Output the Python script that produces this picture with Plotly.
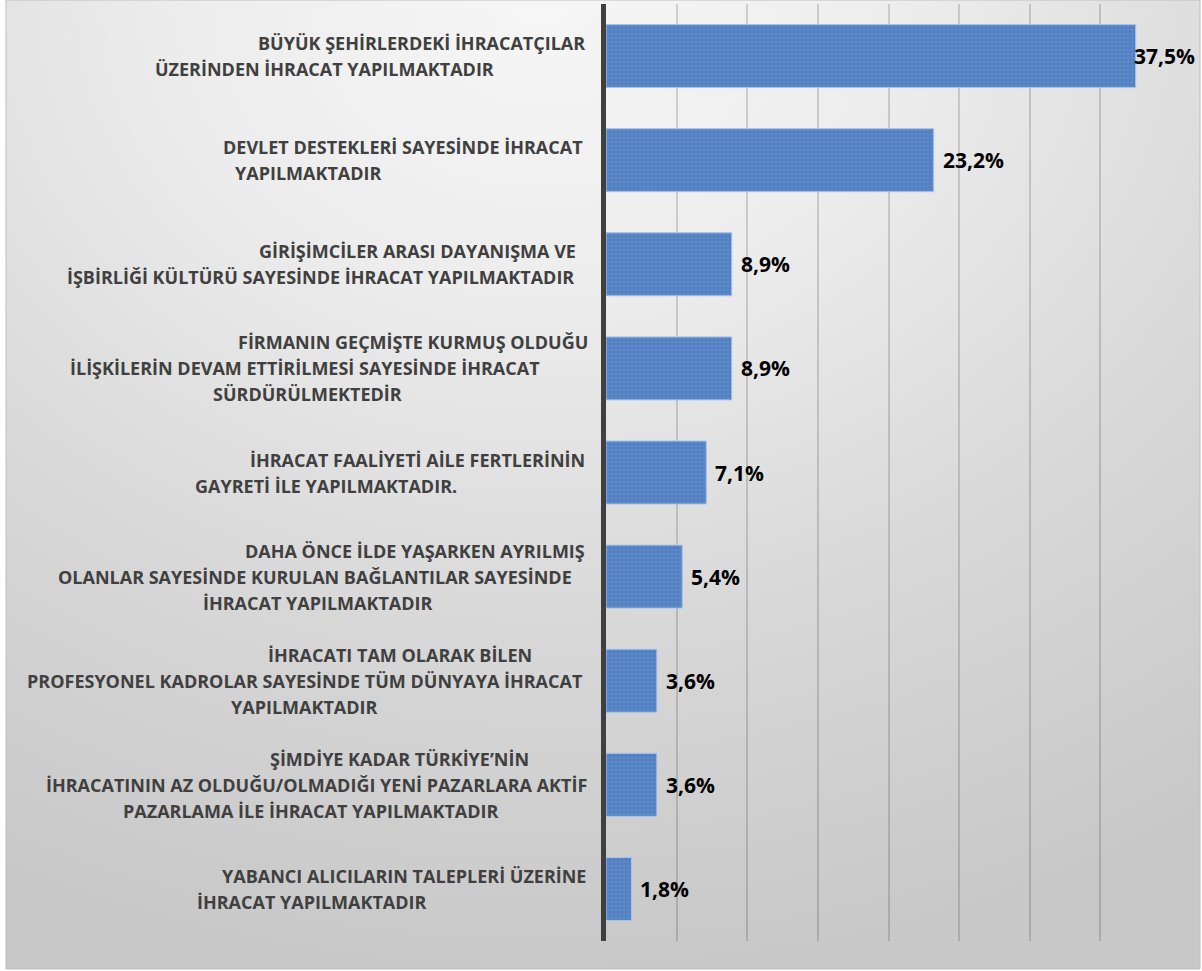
import base64
import plotly.graph_objects as go

# ---------------- data ----------------
LABEL_LINES = [
    ["BÜYÜK ŞEHİRLERDEKİ İHRACATÇILAR", "ÜZERİNDEN İHRACAT YAPILMAKTADIR"],
    ["DEVLET DESTEKLERİ SAYESİNDE İHRACAT", "YAPILMAKTADIR"],
    ["GİRİŞİMCİLER ARASI DAYANIŞMA VE", "İŞBİRLİĞİ KÜLTÜRÜ SAYESİNDE İHRACAT YAPILMAKTADIR"],
    ["FİRMANIN GEÇMİŞTE KURMUŞ OLDUĞU", "İLİŞKİLERİN DEVAM ETTİRİLMESİ SAYESİNDE İHRACAT", "SÜRDÜRÜLMEKTEDİR"],
    ["İHRACAT FAALİYETİ AİLE FERTLERİNİN", "GAYRETİ İLE YAPILMAKTADIR."],
    ["DAHA ÖNCE İLDE YAŞARKEN AYRILMIŞ", "OLANLAR SAYESİNDE KURULAN BAĞLANTILAR SAYESİNDE", "İHRACAT YAPILMAKTADIR"],
    ["İHRACATI TAM OLARAK BİLEN", "PROFESYONEL KADROLAR SAYESİNDE TÜM DÜNYAYA İHRACAT", "YAPILMAKTADIR"],
    ["ŞİMDİYE KADAR TÜRKİYE’NİN", "İHRACATININ AZ OLDUĞU/OLMADIĞI YENİ PAZARLARA AKTİF", "PAZARLAMA İLE İHRACAT YAPILMAKTADIR"],
    ["YABANCI ALICILARIN TALEPLERİ ÜZERİNE", "İHRACAT YAPILMAKTADIR"],
]
CATEGORIES = [" ".join(lines) for lines in LABEL_LINES]
VALUES = [37.5, 23.2, 8.9, 8.9, 7.1, 5.4, 3.6, 3.6, 1.8]

# ---------------- layout helpers (pixel geometry) ----------------
W, H = 1202, 971
ML, MR, MT, MB = 606, 31, 4, 30
PW, PH = W - ML - MR, H - MT - MB

# horizontal centres (in px) of each label line, as laid out in the original
LINE_CENTERS = [
    [421, 324.5], [403, 308.5], [417, 320], [413, 305, 307], [417, 326],
    [414.5, 314.5, 318], [399.5, 304.5, 304], [399, 316.5, 311.5], [403.5, 312],
]
LINE_STEP = 26


def px2x(px):
    return (px - ML) / PW


def py2y(py):
    return (H - MB - py) / PH


def fmt(v):
    return f"{v:.1f}".replace(".", ",") + "%"


fig = go.Figure()
fig.add_trace(go.Bar(
    orientation="h",
    x=VALUES,
    y=CATEGORIES,
    marker=dict(
        color="#4e7ec0",
        line=dict(color="#aac3e8", width=1),
        pattern=dict(shape="+", fgcolor="#84a8de", size=4, solidity=0.3),
    ),
    hoverinfo="skip",
))

annotations = []
for cat, lines, centers in zip(CATEGORIES, LABEL_LINES, LINE_CENTERS):
    n = len(lines)
    for i, (txt, cx) in enumerate(zip(lines, centers)):
        annotations.append(dict(
            x=px2x(cx), xref="paper", y=cat, yref="y",
            xanchor="center", yanchor="middle",
            yshift=-(i - (n - 1) / 2) * LINE_STEP,
            text=txt, showarrow=False,
            font=dict(family="Open Sans", size=18, color="#404040", weight="bold"),
        ))

for cat, v in zip(CATEGORIES, VALUES):
    annotations.append(dict(
        x=v, xref="x", y=cat, yref="y",
        xanchor="left", yanchor="middle",
        xshift=7 if v < 35 else -4,
        text=fmt(v), showarrow=False,
        font=dict(family="Open Sans", size=21, color="#000000", weight="bold"),
    ))

# background radial gradient as an inline svg image
svg = (
    f"<svg xmlns='http://www.w3.org/2000/svg' width='{W}' height='{H}'>"
    "<defs><radialGradient id='g' cx='0.45' cy='0' r='1.0' fx='0.45' fy='0'>"
    "<stop offset='0' stop-color='#f6f6f6'/>"
    "<stop offset='0.3' stop-color='#ededed'/>"
    "<stop offset='0.65' stop-color='#d8d8d8'/>"
    "<stop offset='1' stop-color='#c8c8c8'/>"
    "</radialGradient></defs>"
    f"<rect x='6' y='0' width='{W - 8}' height='{H - 2}' fill='url(#g)'/>"
    "</svg>"
)
svg_uri = "data:image/svg+xml;base64," + base64.b64encode(svg.encode()).decode()

fig.update_layout(
    width=W, height=H,
    margin=dict(l=ML, r=MR, t=MT, b=MB, pad=0),
    paper_bgcolor="#ffffff",
    plot_bgcolor="rgba(0,0,0,0)",
    bargap=0.395,
    showlegend=False,
    annotations=annotations,
    images=[dict(
        source=svg_uri, xref="paper", yref="paper",
        x=px2x(0), y=py2y(0), sizex=W / PW, sizey=H / PH,
        xanchor="left", yanchor="top", sizing="stretch", layer="below",
    )],
    shapes=[dict(
        type="rect", xref="paper", yref="paper",
        x0=px2x(6), x1=px2x(1200), y0=py2y(969), y1=py2y(0),
        line=dict(color="#bfbfbf", width=1), fillcolor="rgba(0,0,0,0)", layer="below",
    )],
    xaxis=dict(
        range=[0, 40], dtick=5, tick0=0,
        showgrid=True, gridcolor="rgba(0,0,0,0.15)", gridwidth=2,
        zeroline=False, showticklabels=False, ticks="", showline=False,
        fixedrange=True,
    ),
    yaxis=dict(
        autorange="reversed", showticklabels=False, ticks="",
        showgrid=False, zeroline=False,
        showline=True, linecolor="#404040", linewidth=5,
        fixedrange=True,
    ),
)

fig.write_html(
    "out.html",
    config={"displayModeBar": False, "staticPlot": True},
    post_script="document.body.style.margin='0';document.body.style.padding='0';",
)
